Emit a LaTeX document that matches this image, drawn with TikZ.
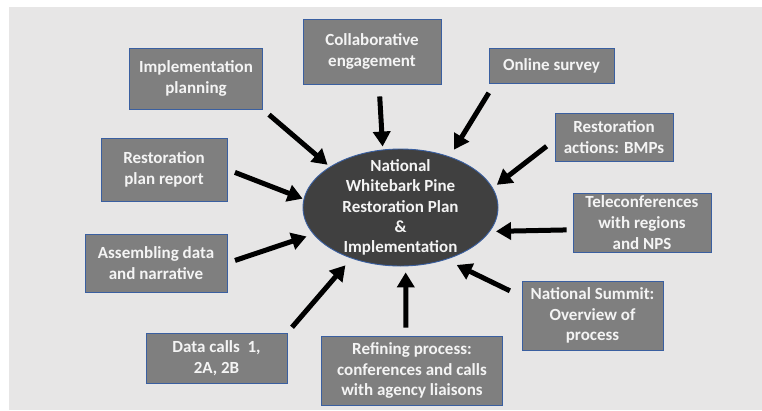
\documentclass[tikz,border=0pt]{standalone}
\usepackage{fontspec}
\setmainfont{Carlito}
\usetikzlibrary{arrows.meta,shapes.geometric}
\definecolor{bggray}{HTML}{E7E6E6}
\definecolor{boxgray}{HTML}{7F7F7F}
\definecolor{hubgray}{HTML}{404040}
\definecolor{boxblue}{HTML}{3A5FA0}
\definecolor{boxtext}{HTML}{F4F4F4}
\begin{document}
\begin{tikzpicture}[x=1pt,y=-1pt,
  box/.style={draw=boxblue, line width=0.9pt, fill=boxgray, text=boxtext,
    font=\bfseries\fontsize{17}{20.8}\selectfont, align=center, inner sep=0pt},
  hub/.style={ellipse, draw=boxblue, line width=0.9pt, fill=hubgray, text=boxtext,
    font=\bfseries\fontsize{17}{20.4}\selectfont, align=center, inner sep=-16pt,
    minimum width=195pt, minimum height=117pt},
  feed/.style={line width=5pt, -{Triangle[length=15pt,width=17pt]}}]
\useasboundingbox (0,0) rectangle (762,410);
\fill[bggray] (9,7) rectangle (762,410);      % background panel
\node[hub] (plan) at (400.5,207.5) {National\\Whitebark Pine\\Restoration Plan\\\&\\Implementation};
% boxes round the hub
\node[box, minimum width=133pt, minimum height=61pt] (implplan) at (196,78.5) {Implementation\\planning};
\node[box, minimum width=138pt, minimum height=65pt] (collab) at (372,51.5) {Collaborative\\engagement};
\node[box, minimum width=125pt, minimum height=35pt] (survey) at (551.5,65.5) {Online survey};
\node[box, minimum width=118pt, minimum height=48pt] (bmps) at (614,137) {Restoration\\actions: BMPs};
\node[box, minimum width=138pt, minimum height=59pt] (telecon) at (642,222.5) {Teleconferences\\with regions\\and NPS};
\node[box, minimum width=141pt, minimum height=69pt] (summit) at (592.5,315.5) {National Summit:\\Overview of\\process};
\node[box, minimum width=181pt, minimum height=69pt] (refine) at (412,370.5) {Refining process:\\conferences and calls\\with agency liaisons};
\node[box, minimum width=141pt, minimum height=50pt] (datacalls) at (216.5,358) {Data calls\ \ 1,\\2A, 2B};
\node[box, minimum width=142pt, minimum height=58pt] (assemble) at (156,263) {Assembling data\\and narrative};
\node[box, minimum width=126pt, minimum height=63pt] (report) at (164,169.5) {Restoration\\plan report};
% arrows into the hub
\draw[feed, shorten <=8pt, shorten >=3pt] (implplan.south east) -- (plan.150);
\draw[feed, shorten <=12pt, shorten >=3pt] ([xshift=7pt]collab.south) -- (plan.107);
\draw[feed, shorten <=11pt, shorten >=8pt] ([xshift=6pt]survey.south west) -- (plan.46);
\draw[feed, shorten <=10pt, shorten >=5pt] (bmps.183) -- (plan.12);
\draw[feed, shorten <=6pt, shorten >=6pt] (telecon.186) -- (plan.345);
\draw[feed, shorten <=13pt, shorten >=12pt] (summit.165) -- (plan.311);
\draw[feed, shorten <=8pt, shorten >=6pt] ([xshift=-6pt]refine.north) -- (plan.275);
\draw[feed, shorten <=7pt, shorten >=9pt] (datacalls.north east) -- (plan.226);
\draw[feed, shorten <=8pt, shorten >=7pt] (assemble.east) -- (plan.197);
\draw[feed, shorten <=8pt, shorten >=1pt] (report.east) -- (plan.175);
\end{tikzpicture}
\end{document}
